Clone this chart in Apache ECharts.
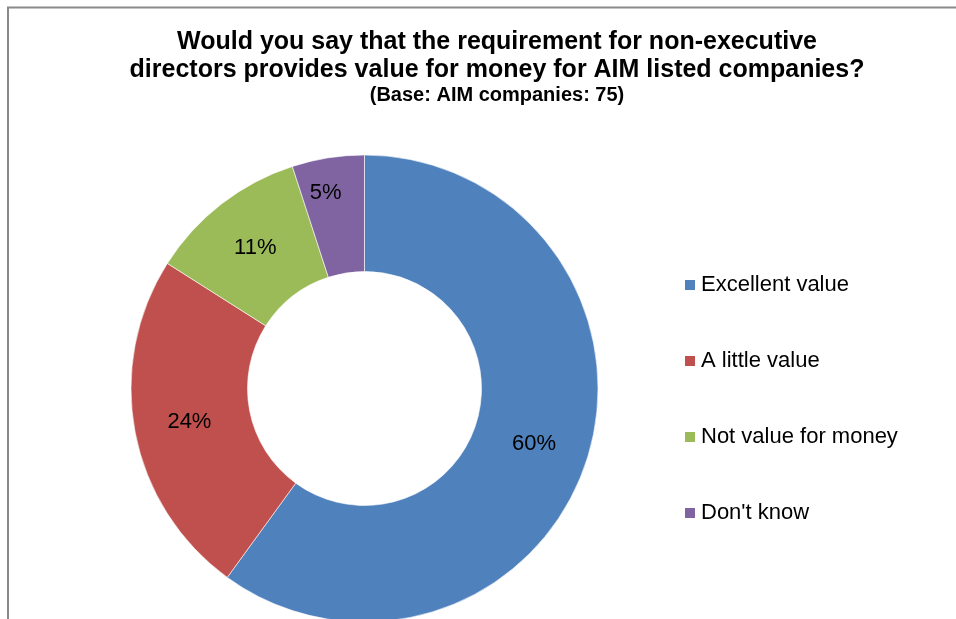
<!DOCTYPE html>
<html>
<head>
<meta charset="utf-8">
<script src="https://cdn.jsdelivr.net/npm/echarts@6/dist/echarts.min.js"></script>
<style>
  html, body { margin: 0; padding: 0; background: #fff; }
  #chart { width: 956px; height: 619px; }
</style>
</head>
<body>
<div id="chart"></div>
<script>
// Survey answers and their shares (%)
const categories = ['Excellent value', 'A little value', 'Not value for money', "Don't know"];
const shares = [60, 24, 11, 5];
const colors = ['#4F81BD', '#C0504D', '#9BBB59', '#8064A2'];

const titleLines = [
  'Would you say that the requirement for non-executive',
  'directors provides value for money for AIM listed companies?'
];
const subtitle = '(Base: AIM companies: 75)';

const FONT = 'Liberation Sans, Arial, sans-serif';

const chart = echarts.init(document.getElementById('chart'), null, { renderer: 'canvas' });

// small slice label sits a little further out, toward the rim
const labelNudge = { "Don't know": [-11, -20] };

chart.setOption({
  animation: false,
  backgroundColor: '#ffffff',
  color: colors,
  title: {
    text: titleLines.join('\n'),
    subtext: subtitle,
    left: 497,
    textAlign: 'center',
    top: 28,
    padding: 0,
    itemGap: 2,
    textStyle: {
      fontFamily: FONT,
      fontWeight: 'bold',
      fontSize: 25,
      lineHeight: 28,
      color: '#000'
    },
    subtextStyle: {
      fontFamily: FONT,
      fontWeight: 'bold',
      fontSize: 20,
      lineHeight: 18,
      color: '#000'
    }
  },
  legend: {
    orient: 'vertical',
    left: 683,
    top: 274,
    padding: 0,
    itemWidth: 12,
    itemHeight: 12,
    itemGap: 54,
    icon: 'rect',
    data: categories,
    textStyle: {
      fontFamily: FONT,
      fontSize: 22,
      lineHeight: 22,
      color: '#000'
    }
  },
  graphic: [{
    type: 'rect',
    shape: { x: 8, y: 7.5, width: 1200, height: 1200 },
    style: { fill: 'none', stroke: '#8a8a8a', lineWidth: 2 },
    silent: true
  }],
  series: [{
    type: 'pie',
    center: [364.5, 388.5],
    radius: [117, 233.5],
    startAngle: 90,
    clockwise: true,
    avoidLabelOverlap: false,
    itemStyle: { borderColor: '#ffffff', borderWidth: 0.6 },
    label: {
      show: true,
      position: 'inside',
      formatter: '{c}%',
      fontFamily: FONT,
      fontSize: 22,
      color: '#000'
    },
    labelLine: { show: false },
    emphasis: { disabled: true },
    data: categories.map((name, i) => {
      const d = { name: name, value: shares[i] };
      if (labelNudge[name]) d.label = { offset: labelNudge[name] };
      return d;
    })
  }]
});
</script>
</body>
</html>
